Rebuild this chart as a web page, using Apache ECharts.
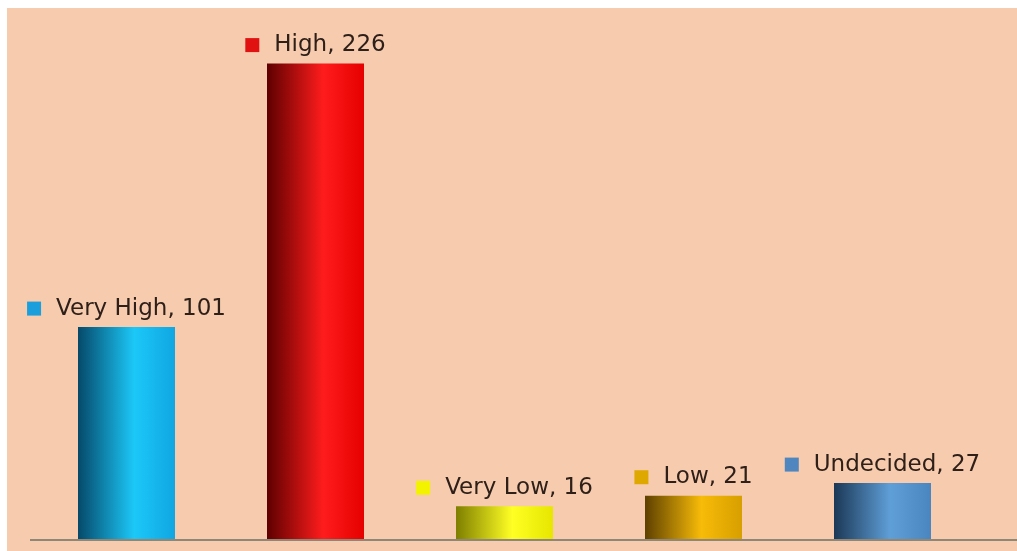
<!DOCTYPE html>
<html>
<head>
<meta charset="utf-8">
<script src="https://cdn.jsdelivr.net/npm/echarts@6/dist/echarts.min.js"></script>
<style>
  html, body { margin: 0; padding: 0; background: #ffffff; }
  #frame { position: absolute; left: 7px; top: 8px; width: 1010px; height: 543px; background: #F7CBAE; }
  #chart { width: 1010px; height: 543px; }
</style>
</head>
<body>
<div id="frame"><div id="chart"></div></div>
<script>
// Survey responses per rating
const categories = ['Very High', 'High', 'Very Low', 'Low', 'Undecided'];
const counts = [101, 226, 16, 21, 27];

// Cylinder shading per bar: [shadow edge, highlight, far edge], plus the legend key colour
const shades = [
  ['#05496a', '#1cc8f8', '#10a6e2'],
  ['#5e0000', '#ff1c1c', '#e60000'],
  ['#7e7e00', '#ffff24', '#e6e600'],
  ['#5e4000', '#f7bb08', '#d79f00'],
  ['#1b3856', '#5f9fd8', '#4a85bf']
];
const keyColors = ['#1a9fdc', '#e01212', '#f3f300', '#dfa800', '#4f86c0'];

const chart = echarts.init(document.getElementById('chart'));

const barData = counts.map((v, i) => ({
  value: v,
  itemStyle: {
    color: new echarts.graphic.LinearGradient(0, 0, 1, 0, [
      { offset: 0, color: shades[i][0] },
      { offset: 0.58, color: shades[i][1] },
      { offset: 1, color: shades[i][2] }
    ])
  },
  label: {
    rich: {
      k: { width: 14, height: 14, backgroundColor: keyColors[i] }
    }
  }
}));

chart.setOption({
  backgroundColor: 'transparent',
  animation: false,
  grid: { left: 25, right: 40, top: 5, bottom: 11 },
  xAxis: {
    type: 'category',
    data: categories,
    axisLine: { show: false },
    axisTick: { show: false },
    axisLabel: { show: false }
  },
  yAxis: {
    type: 'value',
    min: 0,
    max: 250,
    show: false,
    splitLine: { show: false }
  },
  graphic: [{
    type: 'line',
    shape: { x1: 23, y1: 532, x2: 1010, y2: 532 },
    style: { stroke: '#8e8676', lineWidth: 2 },
    z: 10
  }],
  series: [{
    type: 'bar',
    data: barData,
    barWidth: 97,
    label: {
      show: true,
      position: 'top',
      distance: 7,
      formatter: p => '{k| }{g| }{t|' + p.name + ', ' + p.value + '}',
      rich: {
        g: { width: 15 },
        t: { fontFamily: 'DejaVu Sans', fontSize: 23, color: '#2e2019' }
      }
    }
  }]
});
</script>
</body>
</html>
